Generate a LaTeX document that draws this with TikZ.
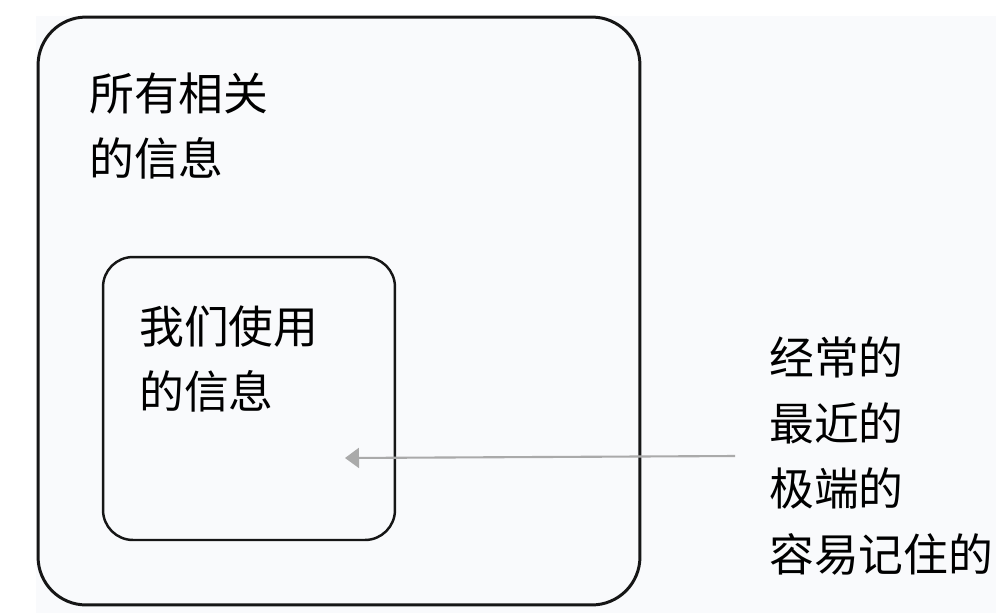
\documentclass[tikz,border=0pt]{standalone}
\usepackage{fontspec}
\setmainfont{Noto Sans CJK SC}
\usetikzlibrary{arrows.meta,positioning}
\definecolor{paperbg}{RGB}{249,250,252}
\definecolor{boxline}{RGB}{22,22,22}
\definecolor{pointgray}{RGB}{170,170,170}
\tikzset{
  setbox/.style={draw=boxline,rectangle,inner sep=0pt},
  cjklabel/.style={font=\fontsize{25.5}{37.5}\selectfont,align=left,
    inner sep=0pt,anchor=west,text=black},
}
\begin{document}
\begin{tikzpicture}[x=0.02cm,y=-0.02cm]
\useasboundingbox(0,0)rectangle(1003,613);
\fill[color=paperbg](36,16)rectangle(996,613);
\node[setbox,line width=1.7pt,rounded corners=0.96cm,
  minimum width=12.04cm,minimum height=11.76cm](outer)at(339,311){};
\node[setbox,line width=1.4pt,rounded corners=0.6cm,
  minimum width=5.84cm,minimum height=5.66cm](inner)at(249,398.5){};
\node[cjklabel](alltext)at(89,126){所有相关\\的信息};
\node[cjklabel](usedtext)at(139,359){我们使用\\的信息};
\node[cjklabel](kinds)at(769,456){经常的\\最近的\\极端的\\容易记住的};
\coordinate(tip)at(345,458);
\draw[-{Triangle[length=0.28cm,width=0.4cm]},line width=1.2pt,color=pointgray]
  ([xshift=-0.68cm]kinds.west)--(tip);
\end{tikzpicture}
\end{document}
